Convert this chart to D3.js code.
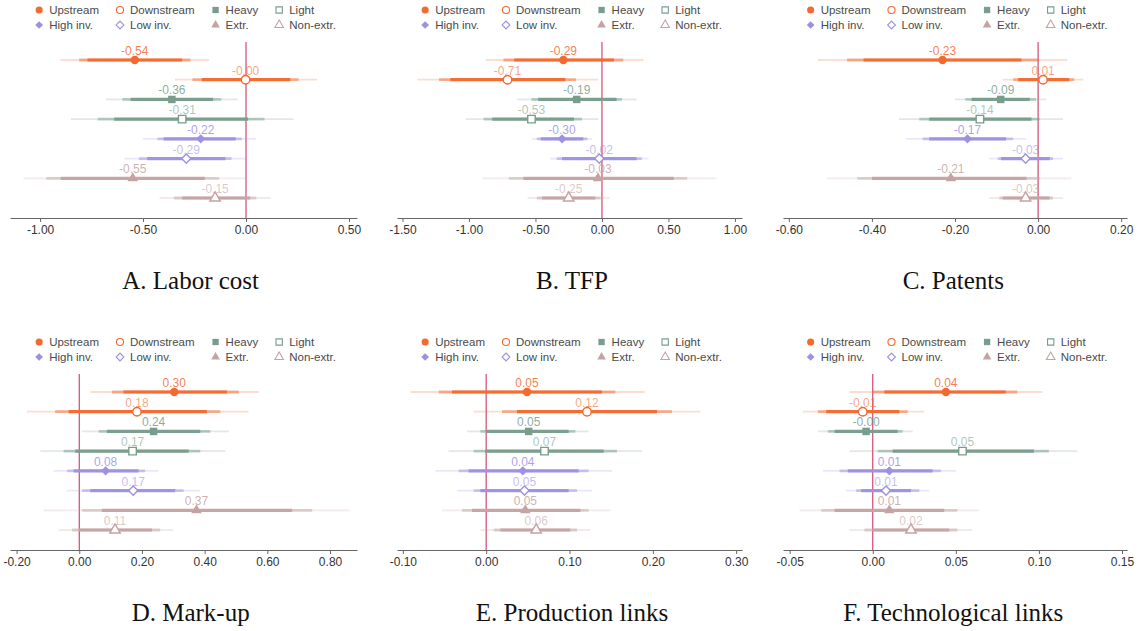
<!DOCTYPE html>
<html>
<head>
<meta charset="utf-8">
<script src="https://cdn.jsdelivr.net/npm/d3@7"></script>
<style>
  body { margin: 0; background: #fff; }
  svg { display: block; font-family: "Liberation Sans", Arial, sans-serif; }
</style>
</head>
<body>
<div id="chart"></div>
<script>
// coefficient plot, 6 panels, 8 sub-samples each

const groups = ["Upstream", "Downstream", "Heavy", "Light", "High inv.", "Low inv.", "Extr.", "Non-extr."];
const titles = ["A. Labor cost", "B. TFP", "C. Patents", "D. Mark-up", "E. Production links", "F. Technological links"];

const tickSets = [
  [-1.0, -0.5, 0, 0.5],
  [-1.5, -1.0, -0.5, 0, 0.5, 1.0],
  [-0.6, -0.4, -0.2, 0, 0.2],
  [-0.2, 0, 0.2, 0.4, 0.6, 0.8],
  [-0.1, 0, 0.1, 0.2, 0.3],
  [-0.05, 0, 0.05, 0.10, 0.15]
];
const domains = [
  [-1.146, 0.539],
  [-1.541, 1.053],
  [-0.614, 0.214],
  [-0.221, 0.886],
  [-0.107, 0.307],
  [-0.054, 0.153]
];

// each row: [estimate, lo99, hi99, lo95, hi95, lo90, hi90]
const laborCost = [
  [-0.54, -0.90, -0.18, -0.81, -0.27, -0.77, -0.31],
  [-0.002, -0.345, 0.345, -0.26, 0.255, -0.215, 0.215],
  [-0.36, -0.68, -0.04, -0.60, -0.12, -0.56, -0.16],
  [-0.31, -0.85, 0.23, -0.72, 0.09, -0.64, 0.01],
  [-0.22, -0.50, 0.05, -0.43, -0.02, -0.40, -0.05],
  [-0.29, -0.59, 0.00, -0.52, -0.07, -0.48, -0.10],
  [-0.55, -1.08, 0.00, -0.97, -0.13, -0.90, -0.20],
  [-0.15, -0.42, 0.12, -0.35, 0.05, -0.31, 0.02]
];
const tfp = [
  [-0.29, -0.875, 0.31, -0.74, 0.16, -0.66, 0.09],
  [-0.71, -1.39, -0.03, -1.225, -0.195, -1.14, -0.275],
  [-0.19, -0.64, 0.26, -0.53, 0.15, -0.48, 0.11],
  [-0.53, -1.025, -0.025, -0.89, -0.15, -0.825, -0.21],
  [-0.30, -0.525, -0.075, -0.49, -0.11, -0.46, -0.14],
  [-0.02, -0.39, 0.35, -0.34, 0.30, -0.30, 0.26],
  [-0.03, -0.90, 0.86, -0.70, 0.64, -0.59, 0.54],
  [-0.25, -0.56, 0.06, -0.49, -0.01, -0.45, -0.05]
];
const patents = [
  [-0.23, -0.53, 0.07, -0.46, 0.00, -0.42, -0.04],
  [0.012, -0.085, 0.109, -0.06, 0.087, -0.048, 0.075],
  [-0.09, -0.20, 0.02, -0.175, -0.005, -0.16, -0.02],
  [-0.14, -0.335, 0.06, -0.286, 0.004, -0.262, -0.016],
  [-0.17, -0.318, -0.028, -0.278, -0.06, -0.262, -0.077],
  [-0.03, -0.117, 0.06, -0.097, 0.036, -0.089, 0.028],
  [-0.21, -0.508, 0.08, -0.435, 0.004, -0.40, -0.028],
  [-0.03, -0.117, 0.06, -0.093, 0.036, -0.085, 0.028]
];
const markup = [
  [0.303, 0.035, 0.572, 0.104, 0.509, 0.141, 0.471],
  [0.184, -0.167, 0.54, -0.077, 0.45, -0.034, 0.407],
  [0.237, 0.009, 0.477, 0.062, 0.418, 0.088, 0.386],
  [0.17, -0.124, 0.466, -0.05, 0.386, -0.013, 0.349],
  [0.084, -0.082, 0.253, -0.039, 0.21, -0.018, 0.189],
  [0.172, -0.039, 0.386, 0.009, 0.333, 0.035, 0.306],
  [0.374, -0.114, 0.863, 0.009, 0.743, 0.072, 0.679],
  [0.114, -0.066, 0.30, -0.023, 0.258, -0.002, 0.232]
];
const prodLinks = [
  [0.049, -0.091, 0.191, -0.057, 0.155, -0.041, 0.139],
  [0.121, -0.015, 0.257, 0.019, 0.223, 0.037, 0.205],
  [0.051, -0.023, 0.123, -0.007, 0.107, 0.001, 0.099],
  [0.07, -0.045, 0.187, -0.015, 0.157, -0.001, 0.141],
  [0.044, -0.061, 0.151, -0.033, 0.123, -0.021, 0.111],
  [0.046, -0.035, 0.127, -0.015, 0.109, -0.007, 0.099],
  [0.047, -0.053, 0.149, -0.029, 0.123, -0.017, 0.113],
  [0.06, -0.007, 0.125, 0.009, 0.109, 0.017, 0.101]
];
const techLinks = [
  [0.044, -0.014, 0.102, 0.000, 0.087, 0.007, 0.080],
  [-0.006, -0.042, 0.031, -0.033, 0.021, -0.028, 0.016],
  [-0.004, -0.033, 0.024, -0.027, 0.018, -0.023, 0.015],
  [0.054, -0.014, 0.123, 0.003, 0.106, 0.012, 0.097],
  [0.010, -0.030, 0.050, -0.020, 0.041, -0.015, 0.036],
  [0.008, -0.016, 0.034, -0.010, 0.028, -0.007, 0.023],
  [0.010, -0.044, 0.064, -0.031, 0.051, -0.023, 0.043],
  [0.023, -0.014, 0.060, -0.005, 0.051, 0.000, 0.046]
];

const panels = [laborCost, tfp, patents, markup, prodLinks, techLinks];

const colors = ["#f3692f", "#f3692f", "#789d8c", "#789d8c", "#9d91e2", "#9d91e2", "#c5a3a3", "#c5a3a3"];
const shapes = [d3.symbolCircle, d3.symbolCircle, d3.symbolSquare, d3.symbolSquare,
                d3.symbolSquare, d3.symbolSquare, d3.symbolTriangle, d3.symbolTriangle];
const rotate = (i) => (i === 4 || i === 5) ? 45 : 0;   // diamonds = rotated squares
const filled = (i) => i % 2 === 0;

const W = 1144, H = 631;
const colLeft = [10, 397, 783], colRight = [357, 742, 1127];
const rowTop = [0, 332];

const svg = d3.select("#chart").append("svg")
  .attr("width", W).attr("height", H);

// CI levels: outer (faint), middle, inner (thick)
const levels = [
  {lo: 1, hi: 2, w: 1.8, op: 0.22},
  {lo: 3, hi: 4, w: 2.8, op: 0.5},
  {lo: 5, hi: 6, w: 3.2, op: 0.95}
];

panels.forEach((rows, p) => {
  const col = p % 3, r = Math.floor(p / 3);
  const g = svg.append("g").attr("transform", `translate(0,${rowTop[r]})`);

  const x = d3.scaleLinear().domain(domains[p]).range([colLeft[col], colRight[col]]);
  const y = d3.scalePoint().domain(groups).range([60, 198]);

  // x axis
  const ax = g.append("g")
    .attr("transform", "translate(0,218)")
    .call(d3.axisBottom(x).tickValues(tickSets[p]).tickFormat(d => d.toFixed(2)).tickSize(4).tickSizeOuter(0));
  ax.select(".domain").attr("stroke", "#666");
  ax.selectAll(".tick line").attr("stroke", "#666");
  ax.selectAll(".tick text").attr("fill", "#333").attr("font-size", "12px")
    .attr("font-family", "Liberation Sans, Arial, sans-serif");

  // zero line
  g.append("line")
    .attr("x1", x(0)).attr("x2", x(0))
    .attr("y1", 42).attr("y2", 218)
    .attr("stroke", "#d5466f").attr("stroke-width", 1.2);

  // CI bars
  levels.forEach(lv => {
    g.selectAll(null).data(rows).enter().append("line")
      .attr("x1", d => x(d[lv.lo])).attr("x2", d => x(d[lv.hi]))
      .attr("y1", (d, i) => y(groups[i])).attr("y2", (d, i) => y(groups[i]))
      .attr("stroke", (d, i) => colors[i])
      .attr("stroke-width", lv.w)
      .attr("stroke-opacity", lv.op);
  });

  // point estimates
  g.selectAll(null).data(rows).enter().append("path")
    .attr("transform", (d, i) => `translate(${x(d[0])},${y(groups[i])}) rotate(${rotate(i)})`)
    .attr("d", (d, i) => d3.symbol().type(shapes[i]).size(i >= 6 ? 48 : (i >= 4 ? 42 : 56))())
    .attr("fill", (d, i) => filled(i) ? colors[i] : "#fff")
    .attr("stroke", (d, i) => colors[i])
    .attr("stroke-width", (d, i) => filled(i) ? 0 : 1.4);

  // value labels
  g.selectAll(null).data(rows).enter().append("text")
    .attr("x", d => x(d[0]))
    .attr("y", (d, i) => y(groups[i]) - 5)
    .attr("text-anchor", "middle")
    .attr("font-size", "12px")
    .attr("fill", (d, i) => colors[i])
    .attr("fill-opacity", (d, i) => filled(i) ? 0.85 : 0.6)
    .text(d => d[0].toFixed(2));

  // legend, two rows x four columns, centred over the plot
  const leg = g.append("g");
  let cx = 0;
  for (let c = 0; c < 4; c++) {
    let maxW = 0;
    [c, c + 4].forEach((i, j) => {
      const yy = j === 0 ? 10 : 25;
      leg.append("path")
        .attr("transform", `translate(${cx},${yy}) rotate(${rotate(i)})`)
        .attr("d", d3.symbol().type(shapes[i]).size(i >= 6 ? 32 : (i >= 4 ? 30 : 40))())
        .attr("fill", filled(i) ? colors[i] : "#fff")
        .attr("stroke", colors[i])
        .attr("stroke-width", filled(i) ? 0 : 1.1);
      const t = leg.append("text")
        .attr("x", cx + 10).attr("y", yy + 4)
        .attr("font-size", "11.5px").attr("fill", "#4a4a4a")
        .text(groups[i]);
      maxW = Math.max(maxW, t.node().getComputedTextLength());
    });
    cx += 10 + maxW + 21;
  }
  const legW = cx - 21;
  const mid = (colLeft[col] + colRight[col]) / 2;
  leg.attr("transform", `translate(${mid - legW / 2 + 4},0)`);

  // panel title, centred in its third of the figure
  g.append("text")
    .attr("x", W / 3 * (col + 0.5)).attr("y", 289)
    .attr("text-anchor", "middle")
    .attr("font-family", "Liberation Serif, 'Times New Roman', serif")
    .attr("font-size", "25px").attr("fill", "#111")
    .text(titles[p]);
});
</script>
</body>
</html>
